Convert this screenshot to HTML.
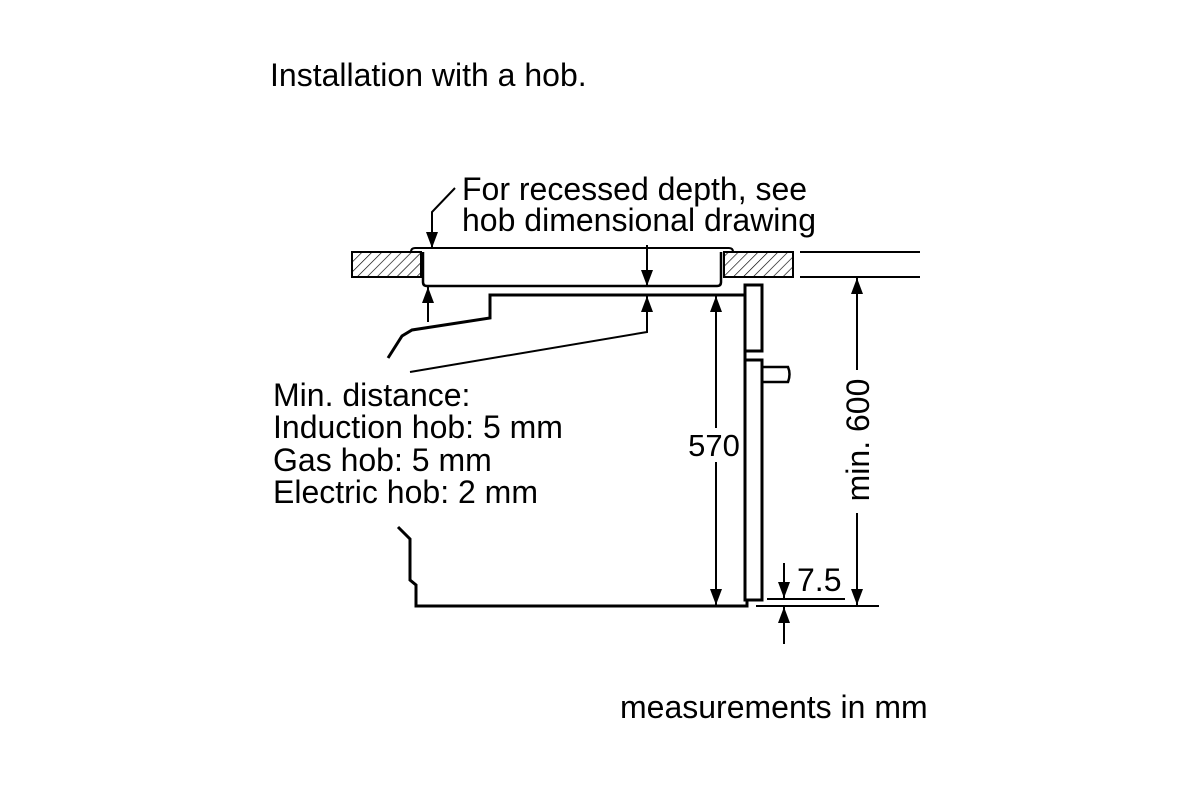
<!DOCTYPE html>
<html><head><meta charset="utf-8"><style>
html,body{margin:0;padding:0;background:#fff;}
svg{display:block;}
text{font-family:"Liberation Sans",Arial,sans-serif;fill:#000;}
</style></head><body>
<svg width="1200" height="800" viewBox="0 0 1200 800" xmlns="http://www.w3.org/2000/svg">
<defs>
<pattern id="h" width="7" height="7" patternUnits="userSpaceOnUse" patternTransform="rotate(45)">
<line x1="0" y1="0" x2="0" y2="7" stroke="#000" stroke-width="1.3"/>
</pattern>
<marker id="b" viewBox="0 0 16 12" refX="16" refY="6" markerWidth="16" markerHeight="12" markerUnits="userSpaceOnUse" orient="auto">
<path d="M0,0 L16,6 L0,12 z" fill="#000"/>
</marker>
</defs>

<text x="270" y="86" font-size="32">Installation with a hob.</text>
<text x="462" y="200" font-size="32">For recessed depth, see</text>
<text x="462" y="231" font-size="32">hob dimensional drawing</text>

<text x="273" y="406" font-size="32">Min. distance:</text>
<text x="273" y="438" font-size="32">Induction hob: 5 mm</text>
<text x="273" y="471" font-size="32">Gas hob: 5 mm</text>
<text x="273" y="503" font-size="32">Electric hob: 2 mm</text>

<text x="620" y="718" font-size="32">measurements in mm</text>

<!-- worktop -->
<rect x="352" y="252" width="69" height="25" fill="url(#h)" stroke="#000" stroke-width="2"/>
<rect x="724" y="252" width="69" height="25" fill="url(#h)" stroke="#000" stroke-width="2"/>
<line x1="800" y1="252" x2="920" y2="252" stroke="#000" stroke-width="2"/>
<line x1="800" y1="277" x2="920" y2="277" stroke="#000" stroke-width="2"/>

<!-- hob -->
<path d="M411,252 Q411,248 415,248 L729,248 Q733,248 733,252" fill="none" stroke="#000" stroke-width="2"/>
<path d="M423,252 L423,282 Q423,286 427,286 L717,286 Q721,286 721,282 L721,252" fill="none" stroke="#000" stroke-width="2.5"/>

<!-- label arrow -->
<polyline points="455,188 432,212 432,248" fill="none" stroke="#000" stroke-width="2" marker-end="url(#b)"/>

<!-- oven top -->
<polyline points="745,295 490,295 490,318 412,330 402,336 388,358" fill="none" stroke="#000" stroke-width="3"/>
<!-- left bottom -->
<polyline points="398,527 410,539 410,580 416,585 416,606 747,606 747,600" fill="none" stroke="#000" stroke-width="3"/>

<!-- front panel -->
<rect x="745" y="285" width="17" height="66" fill="none" stroke="#000" stroke-width="3"/>
<rect x="745" y="360" width="17" height="240" fill="none" stroke="#000" stroke-width="3"/>
<line x1="745" y1="351" x2="745" y2="360" stroke="#000" stroke-width="3"/>
<path d="M762,367 L788,367 Q791,374 788,382 L762,382" fill="none" stroke="#000" stroke-width="2.5"/>

<!-- min distance arrows -->
<line x1="428" y1="322" x2="428" y2="287" stroke="#000" stroke-width="2" marker-end="url(#b)"/>
<line x1="647" y1="245" x2="647" y2="286" stroke="#000" stroke-width="2" marker-end="url(#b)"/>
<polyline points="410,372 647,332 647,296" fill="none" stroke="#000" stroke-width="2" marker-end="url(#b)"/>

<!-- 570 -->
<line x1="716" y1="428" x2="716" y2="296" stroke="#000" stroke-width="2" marker-end="url(#b)"/>
<line x1="716" y1="462" x2="716" y2="605" stroke="#000" stroke-width="2" marker-end="url(#b)"/>
<text x="714" y="456" font-size="31" text-anchor="middle">570</text>

<!-- min 600 -->
<line x1="857" y1="370" x2="857" y2="278" stroke="#000" stroke-width="2" marker-end="url(#b)"/>
<line x1="857" y1="513" x2="857" y2="605" stroke="#000" stroke-width="2" marker-end="url(#b)"/>
<text transform="translate(869,440) rotate(-90)" font-size="32" text-anchor="middle">min. 600</text>

<!-- 7.5 -->
<line x1="756" y1="606" x2="879" y2="606" stroke="#000" stroke-width="2"/>
<line x1="767" y1="599" x2="845" y2="599" stroke="#000" stroke-width="2"/>
<line x1="784" y1="563" x2="784" y2="598" stroke="#000" stroke-width="2" marker-end="url(#b)"/>
<line x1="784" y1="644" x2="784" y2="607" stroke="#000" stroke-width="2" marker-end="url(#b)"/>
<text x="797" y="591" font-size="32">7.5</text>
</svg>
</body></html>
